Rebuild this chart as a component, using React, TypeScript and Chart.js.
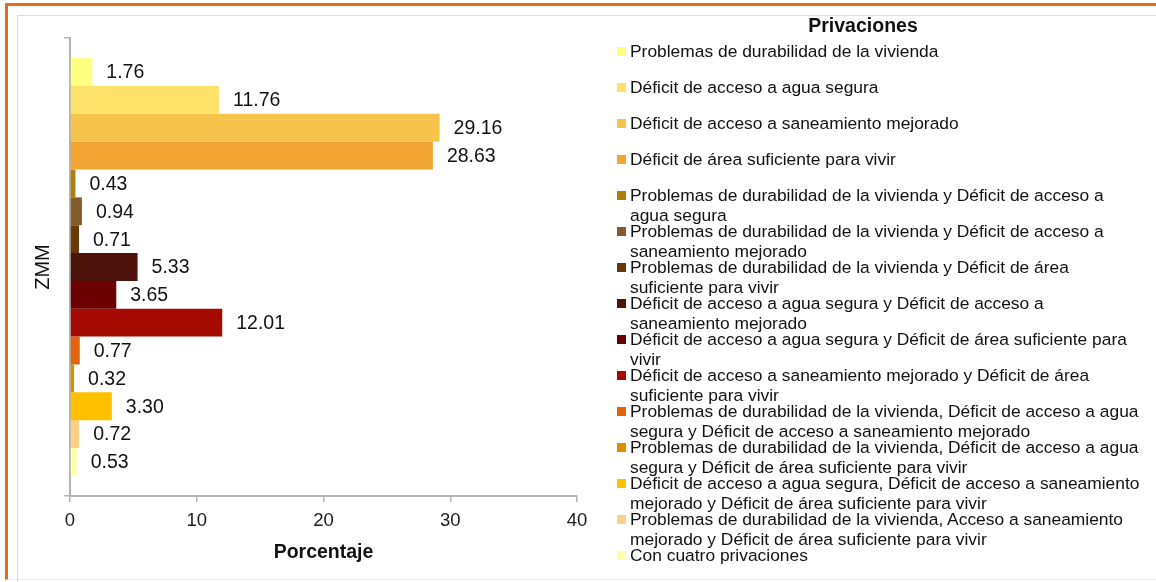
import React, { useEffect, useRef } from 'react';
import { Chart, registerables } from 'chart.js';

Chart.register(...registerables);

const FONT = '"Liberation Sans", Arial, Helvetica, sans-serif';

const categories = ['ZMM'];

const seriesLabels: string[][] = [
  ['Problemas de durabilidad de la vivienda'],
  ['Déficit de acceso a agua segura'],
  ['Déficit de acceso a saneamiento mejorado'],
  ['Déficit de área suficiente para vivir'],
  ['Problemas de durabilidad de la vivienda y Déficit de acceso a', 'agua segura'],
  ['Problemas de durabilidad de la vivienda y Déficit de acceso a', 'saneamiento mejorado'],
  ['Problemas de durabilidad de la vivienda y Déficit de área', 'suficiente para vivir'],
  ['Déficit de acceso a agua segura y Déficit de acceso a', 'saneamiento mejorado'],
  ['Déficit de acceso a agua segura y Déficit de área suficiente para', 'vivir'],
  ['Déficit de acceso a saneamiento mejorado y Déficit de área', 'suficiente para vivir'],
  ['Problemas de durabilidad de la vivienda, Déficit de acceso a agua', 'segura y Déficit de acceso a saneamiento mejorado'],
  ['Problemas de durabilidad de la vivienda, Déficit de acceso a agua', 'segura y Déficit de área suficiente para vivir'],
  ['Déficit de acceso a agua segura, Déficit de acceso a saneamiento', 'mejorado y Déficit de área suficiente para vivir'],
  ['Problemas de durabilidad de la vivienda, Acceso a saneamiento', 'mejorado y Déficit de área suficiente para vivir'],
  ['Con cuatro privaciones'],
];

const seriesValues = [1.76, 11.76, 29.16, 28.63, 0.43, 0.94, 0.71, 5.33, 3.65, 12.01, 0.77, 0.32, 3.3, 0.72, 0.53];

const seriesColors = [
  '#FFFF80',
  '#FDE26A',
  '#F8C34B',
  '#F1A632',
  '#B07C0C',
  '#875A2C',
  '#6A3A06',
  '#4E130B',
  '#6B0102',
  '#A40A00',
  '#E2630E',
  '#DE8C00',
  '#FFC000',
  '#FDD08A',
  '#FFFFA8',
];

const xTicks = [0, 10, 20, 30, 40];

const legendTitle = 'Privaciones';
const xTitle = 'Porcentaje';

const valueLabels = {
  id: 'valueLabels',
  afterDatasetsDraw(chart: any) {
    const ctx = chart.ctx;
    ctx.save();
    ctx.font = `19.5px ${FONT}`;
    ctx.fillStyle = '#111111';
    ctx.textAlign = 'left';
    ctx.textBaseline = 'middle';
    chart.data.datasets.forEach((ds: any, i: number) => {
      const meta = chart.getDatasetMeta(i);
      meta.data.forEach((el: any, j: number) => {
        const v = ds.data[j] as number;
        ctx.fillText(v.toFixed(2), el.x + 14, el.y + 1);
      });
    });
    ctx.restore();
  },
};

export default function App() {
  const ref = useRef<HTMLCanvasElement | null>(null);

  useEffect(() => {
    if (!ref.current) return;
    const chart = new Chart(ref.current, {
      type: 'bar',
      data: {
        labels: categories,
        datasets: seriesValues.map((v, i) => ({
          label: seriesLabels[i].join(' '),
          data: [v],
          backgroundColor: seriesColors[i],
          borderWidth: 0,
          categoryPercentage: 0.912,
          barPercentage: 1,
        })),
      },
      options: {
        indexAxis: 'y',
        animation: false,
        responsive: false,
        maintainAspectRatio: false,
        devicePixelRatio: 1,
        layout: { padding: { left: 0, top: 38, right: 579, bottom: 0 } },
        plugins: {
          legend: { display: false },
          tooltip: { enabled: false },
        },
        scales: {
          x: {
            type: 'linear',
            min: 0,
            max: 40,
            afterFit(s: any) {
              s.height = 86;
            },
            afterBuildTicks(s: any) {
              s.ticks = xTicks.map((v) => ({ value: v }));
            },
            grid: { drawOnChartArea: false, drawTicks: true, tickLength: 6, color: '#B4B4B4', lineWidth: 1.5 },
            border: { display: true, color: '#B4B4B4', width: 2 },
            ticks: { font: { family: FONT, size: 18.5 }, color: '#1a1a1a', padding: 8, maxRotation: 0 },
            title: {
              display: true,
              text: xTitle,
              font: { family: FONT, size: 19.5, weight: 'bold', lineHeight: 1.2 },
              color: '#111111',
              padding: { top: 0, bottom: 18 },
            },
          },
          y: {
            type: 'category',
            afterFit(s: any) {
              s.width = 70;
            },
            grid: { drawOnChartArea: false, drawTicks: true, tickLength: 6, color: '#B4B4B4', lineWidth: 1.5, offset: true },
            border: { display: true, color: '#B4B4B4', width: 2 },
            ticks: { display: false },
            title: {
              display: true,
              text: categories[0],
              font: { family: FONT, size: 20, lineHeight: 1.2 },
              color: '#111111',
              padding: { top: 31, bottom: 0 },
            },
          },
        },
      } as any,
      plugins: [valueLabels],
    });
    return () => chart.destroy();
  }, []);

  return (
    <div style={{ position: 'absolute', left: 0, top: 0, width: 1156, height: 582, overflow: 'hidden', background: '#fff', fontFamily: FONT }}>
      <div style={{ position: 'absolute', left: 5, top: 3, width: 1200, height: 577, borderLeft: '3px solid #E66A1E', borderTop: '3px solid #E66A1E', borderBottom: '1px solid #F5E4D8', boxSizing: 'border-box' }} />
      <div style={{ position: 'absolute', left: 17, top: 15, width: 1200, height: 600, borderLeft: '1px solid #DCDCDC', borderTop: '1px solid #DCDCDC', boxSizing: 'border-box' }} />
      <canvas ref={ref} width={1156} height={582} style={{ position: 'absolute', left: 0, top: 0, width: 1156, height: 582 }} />
      <div style={{ position: 'absolute', left: 763, top: 13, width: 200, textAlign: 'center', fontSize: 19.5, fontWeight: 'bold', lineHeight: '24px', color: '#111' }}>
        {legendTitle}
      </div>
      {seriesLabels.map((lines, i) => (
        <div key={i} style={{ position: 'absolute', left: 617, top: 52 + 36 * i - 10, whiteSpace: 'nowrap', fontSize: 17.4, lineHeight: '19.5px', color: '#111' }}>
          <span style={{ position: 'absolute', left: 0, top: 5, width: 9, height: 9, background: seriesColors[i] }} />
          <div style={{ marginLeft: 13 }}>
            {lines.map((l, k) => (
              <div key={k}>{l}</div>
            ))}
          </div>
        </div>
      ))}
    </div>
  );
}
